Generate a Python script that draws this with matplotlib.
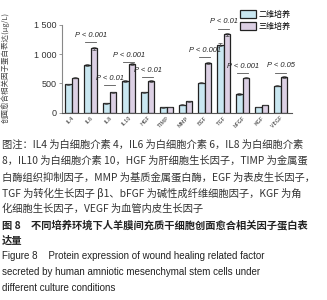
import numpy as np
import matplotlib.pyplot as plt

plt.rcParams['font.family'] = ['Noto Sans CJK SC', 'DejaVu Sans']

factors = ["IL4", "IL6", "IL8", "IL10", "HGF", "TIMP", "MMP", "EGF", "TGF", "bFGF", "KGF", "VEGF"]
culture_2d = [486, 810, 160, 547, 350, 90, 140, 515, 1160, 320, 97, 462]
culture_3d = [600, 1100, 350, 830, 542, 100, 192, 855, 1340, 600, 132, 611]
err_2d = [12, 15, 8, 15, 10, 5, 6, 15, 25, 10, 5, 12]
err_3d = [12, 20, 10, 18, 12, 5, 6, 18, 30, 12, 5, 12]

# P-value annotations: group index, line height, text
p_idx = [1, 2, 3, 4, 7, 8, 9, 11]
p_line = [1210, 474, 872, 605, 947, 1440, 673, 684]
p_text = ["P < 0.001", "P < 0.01", "P < 0.001", "P < 0.01",
          "P < 0.001", "P < 0.01", "P < 0.001", "P < 0.05"]

W, H = 327, 300
fig = plt.figure(figsize=(3.27, 3.0), dpi=100)

ax_left, ax_right = 62, 292
ax_bottom = 112.7
px_per_val = 87.7 / 1500
ymax = 1600
ax_h = ymax * px_per_val
ax = fig.add_axes([ax_left / W, (H - ax_bottom) / H, (ax_right - ax_left) / W, ax_h / H])

x = np.arange(len(factors))
bw = 0.34
ax.bar(x - bw / 2, culture_2d, bw, color="#c9e7f1", edgecolor="#222222", linewidth=0.9,
       yerr=err_2d, error_kw=dict(elinewidth=0.5, capsize=1.2, capthick=0.5, ecolor="#444444"),
       label="二维培养")
ax.bar(x + bw / 2, culture_3d, bw, color="#dcd0e4", edgecolor="#222222", linewidth=0.9,
       yerr=err_3d, error_kw=dict(elinewidth=0.5, capsize=1.2, capthick=0.5, ecolor="#444444"),
       label="三维培养")

for i, yl, t in zip(p_idx, p_line, p_text):
    ax.plot([i - 0.28, i + 0.28], [yl, yl], color="#555555", lw=0.6, clip_on=False)
    ax.text(i, yl + 55, t, ha="center", va="bottom", fontsize=5.4, color="#222222",
            family=["Liberation Sans", "DejaVu Sans"], style="italic", clip_on=False)

ax.set_xlim(-0.51, 11.6)
ax.set_ylim(0, ymax)
ax.set_yticks([0, 500, 1000, 1500])
ax.set_yticklabels(["0", "500", "1 000", "1 500"], fontsize=6.5,
                   family=["Liberation Sans", "DejaVu Sans"], color="#333333")
ax.set_xticks(x)
ax.set_xticklabels(factors, rotation=45, ha="right", rotation_mode="anchor",
                   fontsize=4.2, color="#333333")
ax.spines["top"].set_visible(False)
ax.spines["right"].set_visible(False)
ax.spines["left"].set_bounds(0, 1500)
ax.spines["left"].set_color("#888888")
ax.spines["bottom"].set_color("#555555")
ax.tick_params(axis="y", length=2.5, width=0.6, color="#888888", pad=1.5)
ax.tick_params(axis="x", length=0, pad=2)
ax.patch.set_alpha(0)

ax.set_ylabel("创面愈合相关因子蛋白表达(μg/L)", fontsize=5.4, color="#444444")
ax.yaxis.set_label_coords((10 - ax_left) / (ax_right - ax_left), 0.48)

fig.legend(loc="upper left", bbox_to_anchor=(236 / W, 1 - 6 / H), fontsize=5.8,
           frameon=False, handlelength=2.0, handleheight=1.1, labelspacing=0.35,
           handletextpad=0.3, borderpad=0)

caption = [
    "图注：IL4 为白细胞介素 4，IL6 为白细胞介素 6，IL8 为白细胞介素",
    "8，IL10 为白细胞介素 10，HGF 为肝细胞生长因子，TIMP 为金属蛋",
    "白酶组织抑制因子，MMP 为基质金属蛋白酶，EGF 为表皮生长因子，",
    "TGF 为转化生长因子 β1、bFGF 为碱性成纤维细胞因子，KGF 为角",
    "化细胞生长因子，VEGF 为血管内皮生长因子",
]
for k, line in enumerate(caption):
    fig.text(2 / W, 1 - (145 + 16 * k) / H, line, fontsize=7.4, color="#333333", va="center")

title_cn = ["图 8　不同培养环境下人羊膜间充质干细胞创面愈合相关因子蛋白表", "达量"]
for k, line in enumerate(title_cn):
    fig.text(2 / W, 1 - (225 + 15.5 * k) / H, line, fontsize=7.4, color="#222222",
             weight="bold", va="center")

title_en = [
    "Figure 8    Protein expression of wound healing related factor",
    "secreted by human amniotic mesenchymal stem cells under",
    "different culture conditions",
]
for k, line in enumerate(title_en):
    fig.text(2 / W, 1 - (256 + 16 * k) / H, line, fontsize=7.0, color="#222222",
             family=["Liberation Sans", "DejaVu Sans"], va="center")

fig.savefig("out.png", dpi=100)
